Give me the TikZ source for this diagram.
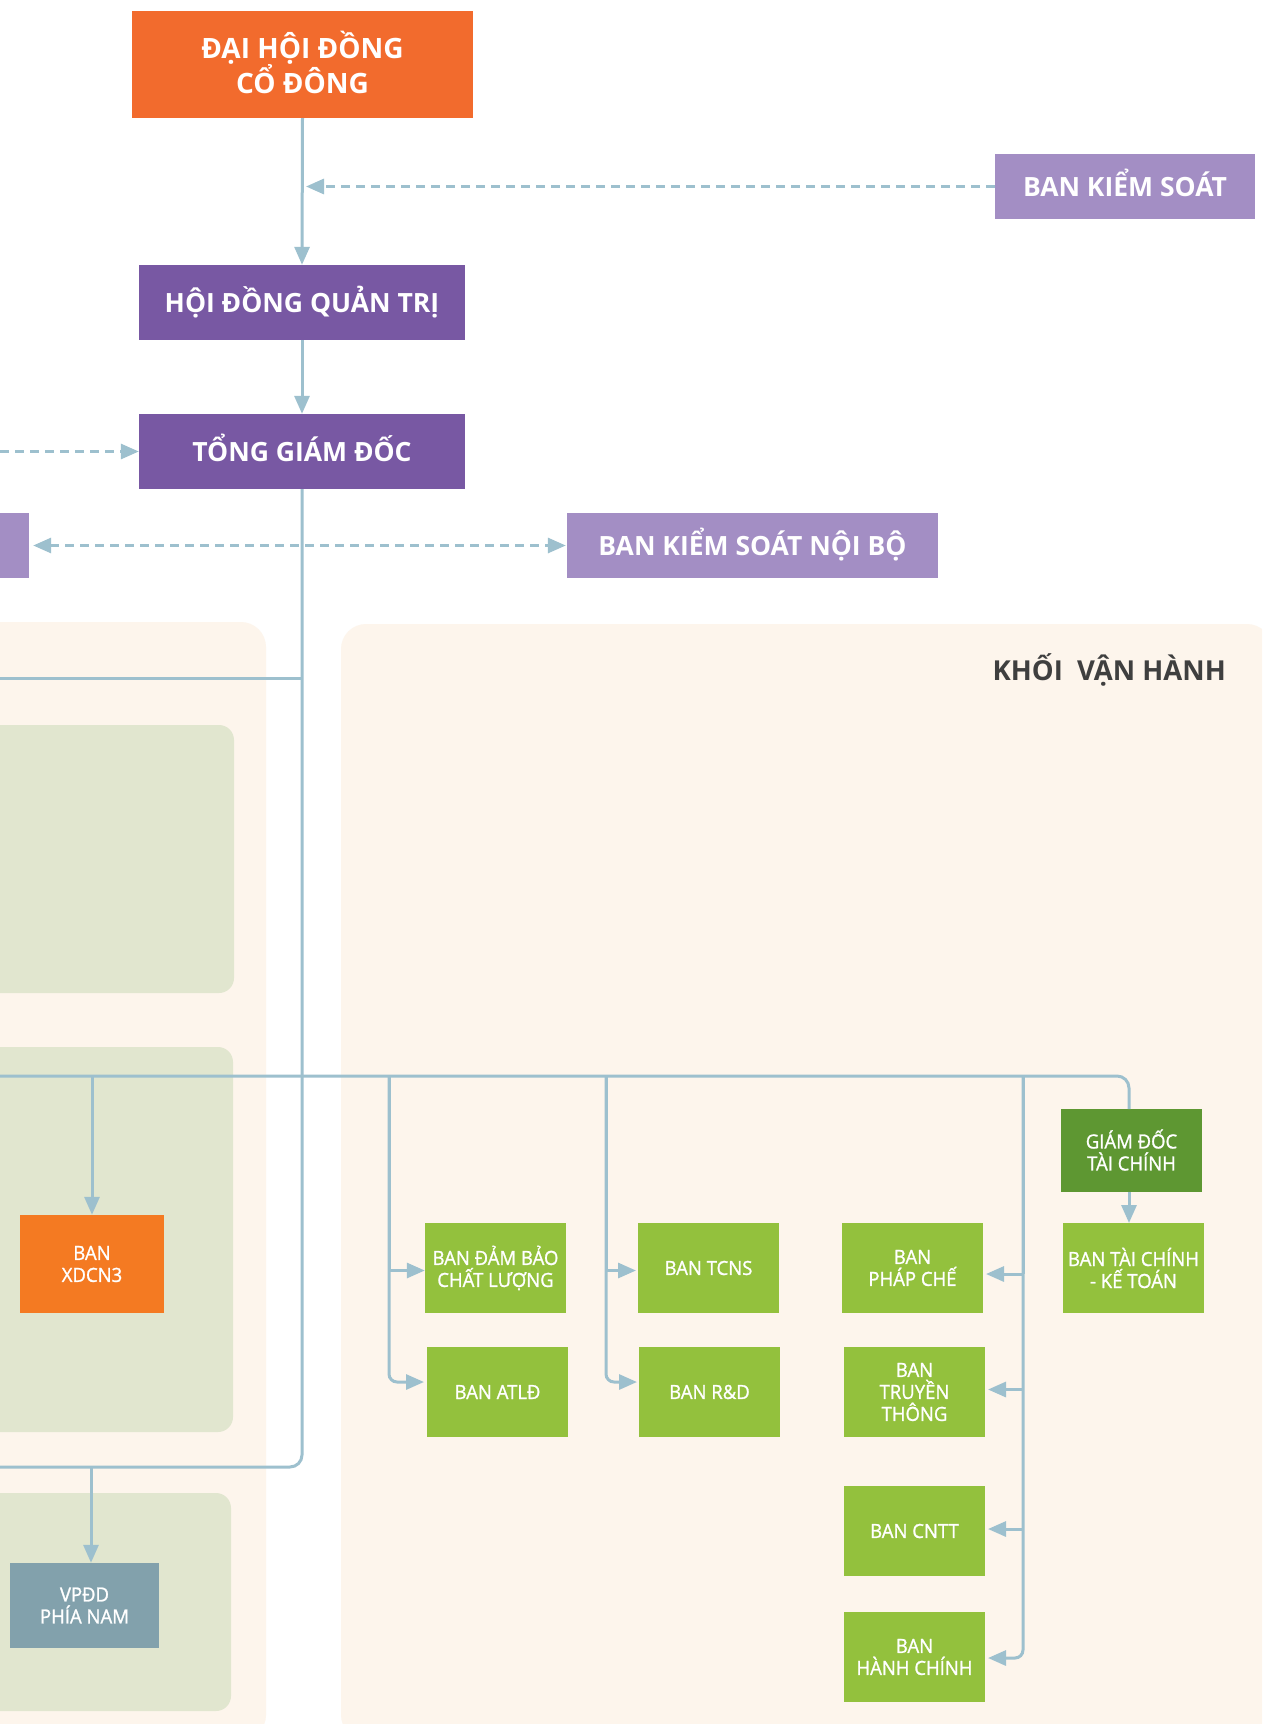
\documentclass[tikz,border=0pt]{standalone}
\usepackage{fontspec}
\setmainfont{Open Sans}
\newfontfamily\smallf{Open Sans}[FakeStretch=0.95,FakeBold=1.2]
\usetikzlibrary{arrows.meta}
\definecolor{orangetop}{HTML}{F26B2D}
\definecolor{orangexd}{HTML}{F47A22}
\definecolor{purpledark}{HTML}{7858A3}
\definecolor{purplelight}{HTML}{A38EC4}
\definecolor{greenbox}{HTML}{93C13D}
\definecolor{greendark}{HTML}{5E9732}
\definecolor{grayblue}{HTML}{82A1AC}
\definecolor{linec}{HTML}{9DC0CE}
\definecolor{beige}{HTML}{FDF5EC}
\definecolor{greenbg}{HTML}{E1E6CF}
\definecolor{titlegray}{HTML}{3F3F3F}
\begin{document}
\begin{tikzpicture}[x=1pt,y=-1pt,
  boxbase/.style={inner sep=0pt, align=center, text=white},
  bigbox/.style={boxbase, font=\bfseries\fontsize{26.5}{34}\selectfont, text height=19pt, text depth=0pt},
  smallbox/.style={boxbase, font=\smallf\fontsize{19.5}{22}\selectfont, minimum width=141pt, minimum height=90pt},
  gbox/.style={smallbox, fill=greenbox},
  conn/.style={draw=linec, line width=3pt},
  arr/.style={conn, -{Triangle[length=18pt,width=15pt]}},
  dline/.style={draw=linec, line width=3pt, dash pattern=on 9pt off 6pt},
  dtip/.style={-{Triangle[length=18pt,width=15pt]}},
]
\useasboundingbox (0,0) rectangle (1262,1724);
\clip (0,0) rectangle (1262,1724);
\fill[white] (0,0) rectangle (1262,1724);

% panels
\fill[beige, rounded corners=25pt] (-60,622) rectangle (266,1740);
\fill[beige, rounded corners=25pt] (341,624) rectangle (1272,1740);
\fill[greenbg, rounded corners=15pt] (-60,725) rectangle (234,993);
\fill[greenbg, rounded corners=15pt] (-60,1047) rectangle (233,1432);
\fill[greenbg, rounded corners=15pt] (-60,1493) rectangle (231,1711);

\node[anchor=east, inner sep=0pt, text=titlegray, font=\bfseries\fontsize{27.5}{30}\selectfont] (khoi) at (1226,670) {KHỐI\ \ VẬN HÀNH};

% top nodes
\node[boxbase, fill=orangetop, minimum width=341pt, minimum height=107pt, font=\bfseries\fontsize{28}{34}\selectfont] (dhdcd) at (302.5,64.5) {ĐẠI HỘI ĐỒNG\\CỔ ĐÔNG\vspace{4pt}};
\node[bigbox, fill=purpledark, minimum width=326pt, minimum height=75pt] (hdqt) at (302,302.5) {HỘI ĐỒNG QUẢN TRỊ};
\node[bigbox, fill=purpledark, minimum width=326pt, minimum height=75pt] (tgd) at (302,451.5) {TỔNG GIÁM ĐỐC};
\node[bigbox, fill=purplelight, minimum width=260pt, minimum height=65pt] (bks) at (1125,186.5) {BAN KIỂM SOÁT};
\node[bigbox, fill=purplelight, minimum width=130pt, minimum height=65pt] (leftbox) at (-36,545.5) {};
\node[bigbox, fill=purplelight, minimum width=371pt, minimum height=65pt] (bksnb) at (752.5,545.5) {BAN KIỂM SOÁT NỘI BỘ};

% left small boxes
\node[smallbox, fill=orangexd, minimum width=144pt, minimum height=98pt] (xd) at (92,1264) {BAN\\XDCN3};
\node[smallbox, fill=grayblue, minimum width=149pt, minimum height=85pt] (vp) at (84.5,1605.5) {VPĐD\\PHÍA NAM};

% right green boxes
\node[gbox] (qa) at (495.5,1268) {BAN ĐẢM BẢO\\CHẤT LƯỢNG};
\node[gbox] (atld) at (497.5,1392) {BAN ATLĐ};
\node[gbox] (tcns) at (708.5,1268) {BAN TCNS};
\node[gbox] (rd) at (709.5,1392) {BAN R\&D};
\node[gbox] (pc) at (912.5,1268) {BAN\\PHÁP CHẾ};
\node[gbox] (tt) at (914.5,1392) {BAN\\TRUYỀN\\THÔNG};
\node[gbox] (cntt) at (914.5,1531) {BAN CNTT};
\node[gbox] (hc) at (914.5,1657) {BAN\\HÀNH CHÍNH};
\node[smallbox, fill=greendark, minimum height=83pt] (gdtc) at (1131.5,1150) {GIÁM ĐỐC\\TÀI CHÍNH};
\node[gbox] (tckt) at (1133.5,1268) {BAN TÀI CHÍNH\\- KẾ TOÁN};

% coordinates
\coordinate (bksin) at (306,186.5);
\coordinate (tgdin) at (0,451.5);
\coordinate (l678) at (0,678);
\coordinate (j678) at (302,678);
\coordinate (l1076) at (0,1076);
\coordinate (l1467) at (0,1467);
\coordinate (xdtop) at (92,1076);
\coordinate (vptop) at (91,1467);
\coordinate (gdtctop) at (1129,1109);
\coordinate (c1) at (389,1076);
\coordinate (c2) at (606,1076);
\coordinate (c3) at (1023,1076);

% connectors top
\draw[arr] (dhdcd.south) -- (hdqt.north);
\draw[arr] (hdqt.south) -- (tgd.north);
\draw[dline, dtip] (bks.west) -- (bksin);
\draw[dline, dtip] (tgdin) -- (tgd.west);
\draw[dline, {Triangle[length=18pt,width=15pt]}-{Triangle[length=18pt,width=15pt]}, shorten <=4pt, shorten >=1pt] (leftbox.east) -- (bksnb.west);

% main trunk
\draw[conn, rounded corners=12pt] (tgd.south) |- (l1467);
\draw[conn] (l678) -- (j678);
\draw[conn, rounded corners=12pt] (l1076) -| (gdtctop);
\draw[arr] (xdtop) -- (xd.north);
\draw[arr] (vptop) -- (vptop |- vp.north);

% column 1
\draw[conn] (c1) -- (389,1270.5);
\draw[arr] (389,1270.5) -- (389,1270.5 -| qa.west);
\draw[arr, rounded corners=8pt] (c1) |- (424,1382);
% column 2
\draw[conn] (c2) -- (606,1270.5);
\draw[arr] (606,1270.5) -- (636,1270.5);
\draw[arr, rounded corners=8pt] (c2) |- (637,1382);
% column 3
\draw[conn] (c3) -- (1023,1274);
\draw[arr] (1023,1274) -- (986,1274);
\draw[arr] (1023,1389.5) -- (988,1389.5);
\draw[arr] (1023,1529) -- (988,1529);
\draw[arr, rounded corners=8pt] (c3) |- (988,1658);
% finance
\draw[arr] (1129,1192) -- (1129,1223);
\end{tikzpicture}
\end{document}
